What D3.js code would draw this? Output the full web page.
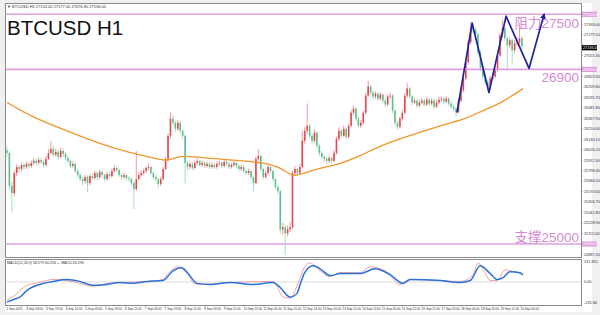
<!DOCTYPE html>
<html>
<head>
<meta charset="utf-8">
<script src="https://cdn.jsdelivr.net/npm/d3@7"></script>
<style>
  html, body { margin: 0; padding: 0; background: #f0f0f0; }
  svg { display: block; font-family: 'Liberation Sans', Arial, 'Noto Sans CJK SC', sans-serif; }
</style>
</head>
<body>
<script>
// Candle data, one bar = 2 hours
const firstOpen = 26020;
const closes = [
  25991,25630,25553,25772,25838,25816,25860,25838,25871,25849,
  25882,25904,25882,25915,25893,25860,25926,25991,26035,25969,
  26002,25947,26013,25980,25937,25904,25849,25871,25794,25750,
  25706,25685,25728,25663,25739,25717,25772,25728,25783,25750,
  25706,25761,25739,25794,25827,25805,25750,25728,25750,25717,
  25706,25663,25597,25706,25750,25772,25794,25827,25838,25772,
  25728,25706,25652,25706,25816,25926,26177,26364,26320,26254,
  26320,26232,26177,25882,25838,25871,25827,25882,25904,25860,
  25882,25849,25871,25838,25860,25838,25871,25882,25849,25893,
  25871,25838,25860,25882,25849,25816,25838,25794,25772,25794,
  25728,25663,25926,25958,25816,25728,25772,25838,25794,25706,
  25619,25575,25159,25181,25115,25159,25181,25772,25816,25772,
  25838,26123,26232,26287,26177,26123,26210,26068,25991,25947,
  25926,25904,25937,25904,25991,26145,26232,26177,26254,26166,
  26287,26429,26473,26364,26287,26320,26429,26615,26714,26648,
  26604,26637,26582,26626,26560,26517,26604,26615,26451,26320,
  26276,26364,26429,26615,26692,26604,26539,26560,26506,26539,
  26560,26517,26571,26528,26560,26495,26539,26571,26582,26549,
  26582,26528,26495,26473,26440,26560,26670,26801,26977,27196,
  27349,27327,27283,27086,26911,26823,26758,26714,26801,26823,
  26889,27053,27272,27349,27240,27163,27218,27108,27185,27196,
  27240,27152
];
const highs = [
  26060,26010,25680,25800,25870,25860,25890,25880,25900,25895,
  25910,25935,25930,25945,25940,25910,25960,26030,26123,26070,
  26040,26030,26050,26040,26000,25960,25920,25900,25890,25820,
  25770,25730,25750,25750,25760,25770,25800,25790,25810,25800,
  25770,25790,25780,25820,25860,25850,25820,25770,25780,25770,
  25740,25720,25680,26010,25780,25800,25820,25850,25880,25850,
  25790,25750,25720,25730,25840,25950,26200,26430,26400,26340,
  26350,26340,26250,26190,25900,25900,25890,25910,25935,25920,
  25910,25900,25900,25890,25890,25880,25900,25910,25900,25920,
  25910,25890,25885,25905,25900,25870,25860,25855,25810,25820,
  25810,25740,25950,26035,25970,25830,25800,25860,25850,25810,
  25720,25640,25590,25230,25210,25200,25240,25800,25850,25830,
  25870,26232,26270,26530,26310,26200,26250,26230,26090,26010,
  25970,25950,25960,25950,26020,26170,26270,26250,26290,26270,
  26310,26460,26510,26490,26380,26350,26450,26640,26780,26730,
  26670,26660,26650,26650,26640,26580,26630,26650,26630,26470,
  26340,26390,26460,26640,26750,26710,26620,26590,26580,26570,
  26590,26580,26600,26590,26590,26580,26570,26600,26610,26600,
  26610,26600,26550,26520,26490,26590,26700,26830,27000,27220,
  27420,27400,27360,27300,27110,26940,26850,26780,26830,26860,
  26920,27080,27300,27440,27370,27260,27250,27240,27220,27250,
  27380,27260
];
const lows = [
  25950,25590,25340,25520,25740,25780,25790,25810,25815,25820,
  25830,25860,25855,25865,25870,25830,25845,25910,25975,25940,
  25950,25920,25930,25950,25910,25880,25820,25830,25770,25720,
  25680,25640,25660,25560,25640,25690,25700,25700,25710,25720,
  25680,25690,25710,25720,25775,25780,25730,25700,25710,25690,
  25680,25630,25380,25580,25690,25730,25750,25770,25800,25750,
  25700,25680,25610,25630,25690,25800,25910,26150,26290,26220,
  26230,26200,26140,25660,25800,25810,25800,25810,25860,25840,
  25840,25825,25830,25815,25820,25815,25820,25850,25825,25830,
  25850,25815,25820,25840,25825,25790,25795,25770,25745,25750,
  25700,25575,25650,25900,25790,25700,25710,25750,25770,25680,
  25590,25540,25120,25100,24880,25080,25130,25160,25740,25740,
  25750,25820,26090,26200,26150,26090,26100,26040,25960,25920,
  25890,25870,25880,25880,25890,25970,26120,26150,26160,26140,
  26150,26270,26400,26340,26260,26260,26300,26410,26600,26620,
  26580,26580,26560,26560,26530,26490,26500,26580,26430,26290,
  26250,26260,26340,26410,26590,26580,26510,26520,26480,26490,
  26520,26495,26500,26505,26510,26470,26480,26520,26550,26525,
  26530,26505,26470,26440,26385,26420,26540,26650,26780,26950,
  27170,27290,27250,27050,26880,26790,26730,26660,26690,26780,
  26800,26870,27030,27240,27210,26890,27130,26950,27080,27150,
  27170,27120
];

// moving average (orange), [bar, price]
const maLine = [
  [0,26540],[10.7,26374],[24.6,26232],[38.1,26090],[51.6,25980],[63.9,25915],
  [65.6,25904],[72.1,25969],[79.1,25937],[92.6,25915],[106.6,25882],[113.1,25816],
  [117.2,25728],[120.1,25761],[128.3,25827],[136.5,25871],[144.7,25958],[152.9,26068],
  [161.1,26145],[174.6,26265],[188.5,26364],[192.6,26429],[200.8,26506],[211.5,26692]
];

// lower panel lines, [bar, value]
const macdSlow = [
  [0,-211],[3.3,-180],[5.3,-160],[8.2,-88],[13.5,-26],[18.9,5],[24.6,26],[29.9,5],
  [35.2,-36],[41,-26],[46.3,-5],[51.6,-15],[57.4,5],[63.9,15],[68,118],[71.3,149],
  [74.2,88],[77.9,-15],[83.2,-26],[91.4,-5],[100.8,-26],[109,-5],[111.9,-57],[116,-160],
  [118.9,-118],[120,-36],[122,98],[125.4,170],[128.3,139],[132.4,67],[136.5,88],[144.7,88],
  [150.8,139],[157,77],[162.3,-15],[165.2,26],[177.5,15],[185.7,-5],[189.8,15],[193.9,170],
  [198,88],[200.8,26],[203.3,46],[206.1,108],[210.2,98],[211.5,77]
];
const macdFast = [
  [0,-190],[3.3,-139],[8.2,-36],[13.5,-5],[18.9,26],[24.6,15],[29.9,-15],[35.2,-46],
  [41,-15],[46.3,-5],[57.4,5],[63.9,26],[66,88],[70.1,160],[73,139],[76.2,-5],[79.1,-26],
  [91.4,-5],[109,5],[111,-67],[113.1,-160],[116,-170],[118.9,-36],[120,36],[122,160],
  [124.2,201],[128.3,118],[132.4,57],[136.5,98],[144.7,98],[148.8,160],[155,118],
  [161.1,-26],[165.2,26],[177.5,15],[185.7,5],[191,77],[193,201],[195.9,98],[197.9,15],
  [200.8,15],[204.1,129],[206.1,118],[210.2,88],[211,67]
];

// hand-drawn zigzag forecast, [bar, price]
const zigzag = [[184.4,26429],[190.6,27404],[197.5,26648],[204.5,27480],[213.9,26911],[220.1,27502]];

const levels = [27500, 26900, 25000];
const levelTexts = ['阻力27500', '26900', '支撑25000'];
const lastPrice = 27136;

const priceTicks = [
  27393.00,27279.10,27165.20,27051.30,26937.40,26823.50,26709.60,26595.70,
  26481.80,26367.90,26254.00,26140.10,26026.20,25912.30,25798.40,25684.50,
  25570.60,25456.70,25342.80,25228.90,25115.00,25001.10,24887.20
];
const macdTickLabels = ['231.855', '0.00', '-232.84'];
const dateLabels = [
  '1 Sep 2023','3 Sep 03:00','3 Sep 19:00','4 Sep 11:00','5 Sep 03:00','5 Sep 19:00',
  '6 Sep 11:00','7 Sep 03:00','7 Sep 19:00','8 Sep 11:00','9 Sep 03:00','9 Sep 21:00',
  '10 Sep 13:00','11 Sep 05:00','11 Sep 21:00','12 Sep 13:00','13 Sep 05:00','13 Sep 21:00',
  '14 Sep 13:00','15 Sep 05:00','15 Sep 21:00','16 Sep 21:00','17 Sep 20:00','18 Sep 04:00',
  '18 Sep 20:00','19 Sep 12:00','20 Sep 04:00'
];

// layout
const width = 600, height = 315;
const plot = { left: 5, right: 581, top: 3, bottom: 257 };
const sub = { top: 259, bottom: 305 };
const labelStep = 8.1;   // bars between date labels

const svg = d3.select('body').append('svg')
    .attr('width', width)
    .attr('height', height);

const x = d3.scaleLinear().domain([-0.8, 235.2]).range([plot.left, plot.right]);
const y = d3.scaleLinear().domain([24858, 27623]).range([plot.bottom, plot.top]);
const yM = d3.scaleLinear().domain([-232.84, 231.855]).range([sub.bottom - 1, sub.top + 1]);

// frames
svg.append('rect').attr('x', 0).attr('y', 0).attr('width', width).attr('height', height).attr('fill', '#f0f0f0');
svg.append('rect').attr('x', plot.left).attr('y', plot.top).attr('width', 592 - plot.left)
    .attr('height', 312 - plot.top).attr('fill', '#fff');
svg.append('rect').attr('x', plot.left + 0.5).attr('y', plot.top + 0.5)
    .attr('width', plot.right - plot.left).attr('height', plot.bottom - plot.top)
    .attr('fill', 'none').attr('stroke', '#8a8a8a');
svg.append('rect').attr('x', plot.left + 0.5).attr('y', sub.top + 0.5)
    .attr('width', plot.right - plot.left).attr('height', sub.bottom - sub.top)
    .attr('fill', 'none').attr('stroke', '#8a8a8a');

svg.append('defs').append('clipPath').attr('id', 'clip-main')
  .append('rect').attr('x', plot.left + 1).attr('y', plot.top + 1)
    .attr('width', plot.right - plot.left - 1).attr('height', plot.bottom - plot.top - 1);

const main = svg.append('g').attr('clip-path', 'url(#clip-main)');

// header text
svg.append('text').attr('x', 7).attr('y', 8).attr('font-size', 4).attr('fill', '#333')
    .text('▼ BTCUSD,H1  27154.00 27177.00 27076.80 27136.00');

// price axis labels (skip the ones hidden under the marker boxes)
const boxed = levels.concat([lastPrice]);
const axisG = svg.append('g').attr('font-size', 3.8).attr('fill', '#333');
priceTicks.forEach(v => {
  axisG.append('line').attr('x1', plot.right).attr('x2', plot.right + 2)
      .attr('y1', y(v)).attr('y2', y(v)).attr('stroke', '#888').attr('stroke-width', 0.5);
  if (boxed.some(b => Math.abs(y(b) - y(v)) < 5.5)) return;
  axisG.append('text').attr('x', 584).attr('y', y(v) + 1.4).text(v.toFixed(2));
});

// candles
const candles = closes.map((c, i) => ({
  i, open: i === 0 ? firstOpen : closes[i - 1], close: c, high: highs[i], low: lows[i]
}));
const upColor = '#e3474c', downColor = '#5fbf8c';

main.selectAll('.wick').data(candles).enter().append('line')
    .attr('x1', d => x(d.i)).attr('x2', d => x(d.i))
    .attr('y1', d => y(d.high)).attr('y2', d => y(d.low))
    .attr('stroke', d => d.close >= d.open ? upColor : downColor)
    .attr('stroke-opacity', 0.6).attr('stroke-width', 0.9);

main.selectAll('.body').data(candles).enter().append('rect')
    .attr('x', d => x(d.i) - 0.8)
    .attr('width', 1.6)
    .attr('y', d => y(Math.max(d.open, d.close)))
    .attr('height', d => Math.max(0.8, Math.abs(y(d.open) - y(d.close))))
    .attr('fill', d => d.close >= d.open ? upColor : downColor);

// moving average
main.append('path').datum(maLine)
    .attr('d', d3.line().x(d => x(d[0])).y(d => y(d[1])).curve(d3.curveBasis))
    .attr('fill', 'none').attr('stroke', '#f0962a').attr('stroke-width', 1.3);

// support / resistance
const lineColor = '#dda0dd', textColor = '#d68ad6';
const textOffset = [14, 13, -2];
levels.forEach((lv, k) => {
  main.append('line').attr('x1', plot.left).attr('x2', plot.right)
      .attr('y1', y(lv)).attr('y2', y(lv))
      .attr('stroke', lineColor).attr('stroke-width', 1.6);
  main.append('text').attr('x', 579).attr('y', y(lv) + textOffset[k])
      .attr('text-anchor', 'end').attr('font-size', 13.5).attr('fill', textColor)
      .text(levelTexts[k]);
  svg.append('rect').attr('x', 582).attr('y', y(lv) - 2.6).attr('width', 15).attr('height', 5.2)
      .attr('fill', lineColor);
  svg.append('text').attr('x', 583).attr('y', y(lv) + 1.4).attr('font-size', 3.8)
      .attr('fill', '#fff').text(lv.toFixed(2));
});

// current price marker
svg.append('rect').attr('x', 582).attr('y', y(lastPrice) - 2.6).attr('width', 15).attr('height', 5.2)
    .attr('fill', '#000');
svg.append('text').attr('x', 583).attr('y', y(lastPrice) + 1.4).attr('font-size', 3.8)
    .attr('fill', '#fff').text(lastPrice.toFixed(2));

// zigzag forecast with arrow
svg.select('defs').append('marker').attr('id', 'arrow')
    .attr('viewBox', '0 0 10 10').attr('refX', 8).attr('refY', 5)
    .attr('markerWidth', 6).attr('markerHeight', 6).attr('markerUnits', 'userSpaceOnUse')
    .attr('orient', 'auto')
  .append('path').attr('d', 'M0,0 L10,5 L0,10 z').attr('fill', '#1e22a0');
main.append('path').datum(zigzag)
    .attr('d', d3.line().x(d => x(d[0])).y(d => y(d[1])))
    .attr('fill', 'none').attr('stroke', '#1e22a0').attr('stroke-width', 1.7)
    .attr('stroke-linejoin', 'round').attr('marker-end', 'url(#arrow)');

// title
svg.append('text').attr('x', 7).attr('y', 34.5).attr('font-size', 20.5).attr('fill', '#111')
    .text('BTCUSD H1');

// lower panel
svg.append('line').attr('x1', plot.left + 1).attr('x2', plot.right)
    .attr('y1', yM(0)).attr('y2', yM(0)).attr('stroke', '#cfcfcf').attr('stroke-width', 0.7);
svg.append('text').attr('x', 7).attr('y', 264).attr('font-size', 3.6).attr('fill', '#333')
    .text('MACD(12,26,9) 58.279 60.256  +-  MACD 63.296');

const mLine = d3.line().x(d => x(d[0])).y(d => yM(d[1])).curve(d3.curveMonotoneX);
svg.append('path').datum(macdFast).attr('d', mLine)
    .attr('fill', 'none').attr('stroke', '#f08b8b').attr('stroke-width', 0.8);
svg.append('path').datum(macdSlow).attr('d', mLine)
    .attr('fill', 'none').attr('stroke', '#2a72d8').attr('stroke-width', 1.5);

const mTicks = [yM.domain()[1], 0, yM.domain()[0]];
mTicks.forEach((v, k) => {
  svg.append('text').attr('x', 584).attr('y', yM(v) + (k === 0 ? 2.5 : k === 2 ? -0.5 : 1.4))
      .attr('font-size', 3.8).attr('fill', '#333').text(macdTickLabels[k]);
});

// date axis
dateLabels.forEach((t, k) => {
  const px = x(k * labelStep);
  svg.append('line').attr('x1', px).attr('x2', px).attr('y1', sub.bottom).attr('y2', sub.bottom + 2)
      .attr('stroke', '#888').attr('stroke-width', 0.5);
  svg.append('text').attr('x', px - 0.5).attr('y', 310).attr('font-size', 3.1).attr('fill', '#333').text(t);
});
</script>
</body>
</html>
